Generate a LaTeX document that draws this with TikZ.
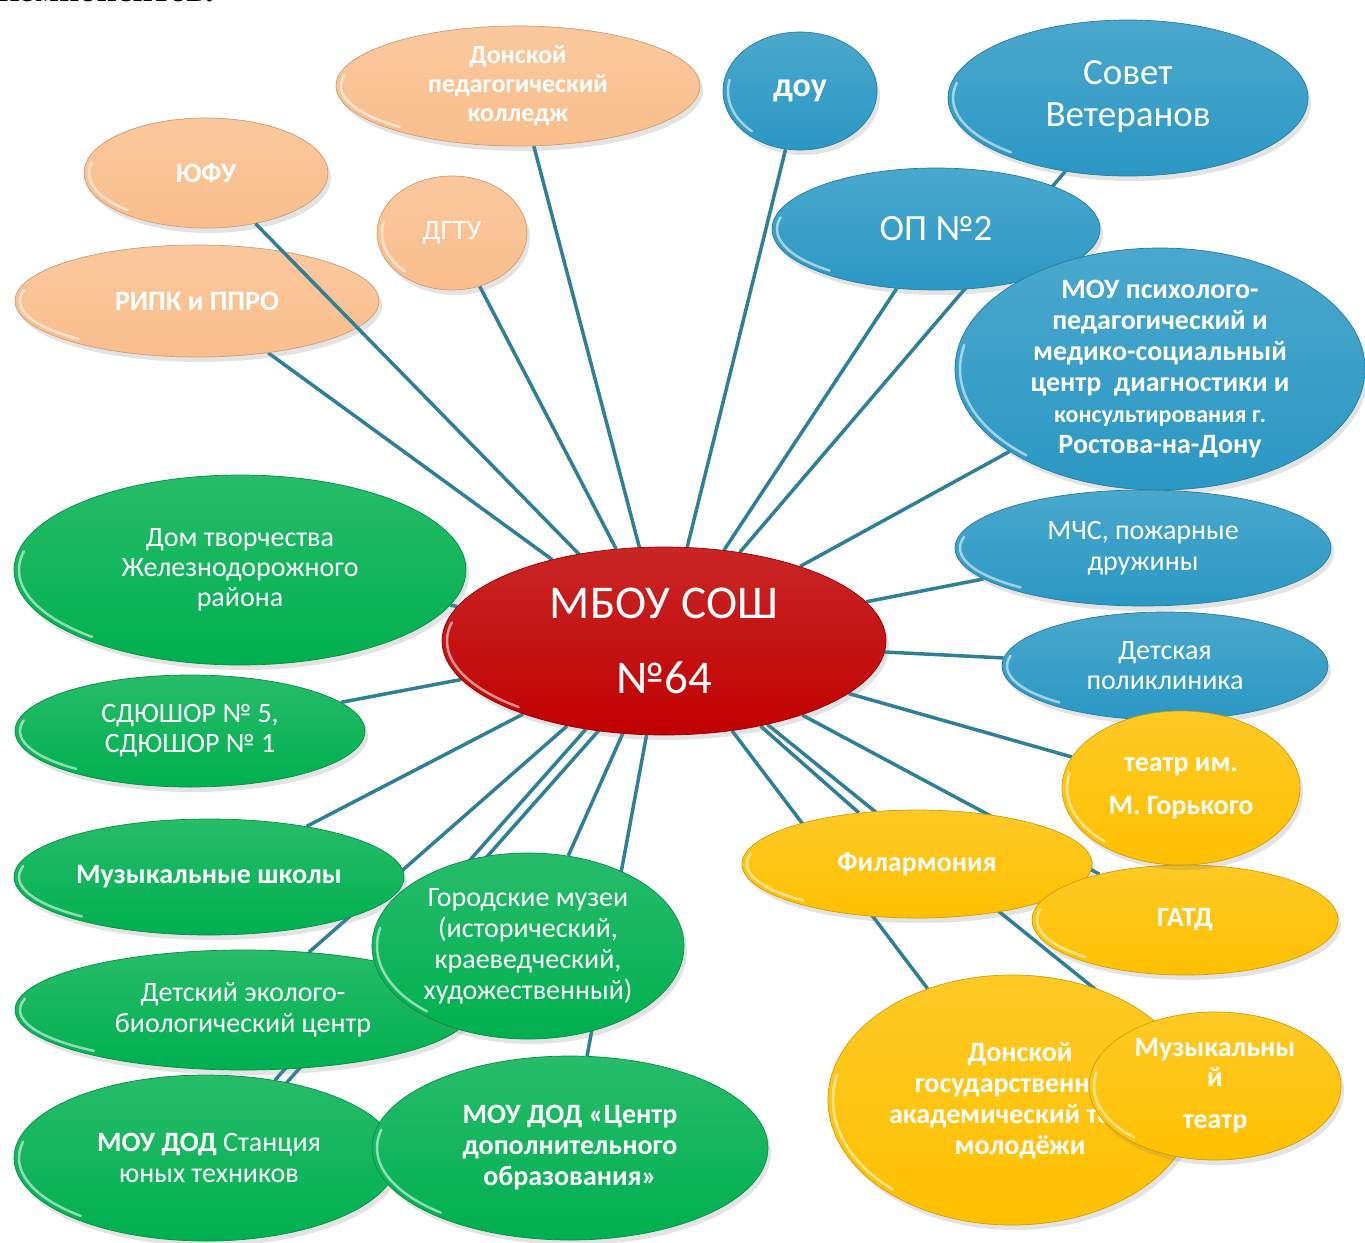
\documentclass[tikz,border=0pt]{standalone}
\usepackage{fontspec}
\setmainfont{Carlito}
\newfontfamily\serifru{Liberation Serif}
\usetikzlibrary{shapes.geometric,shadows,backgrounds,calc}
\definecolor{cO}{HTML}{F9BE8C}
\definecolor{cB}{HTML}{2A98C4}
\definecolor{cG}{HTML}{00B050}
\definecolor{cR}{HTML}{C00000}
\definecolor{cY}{HTML}{FFC000}
\definecolor{cL}{HTML}{2D8098}
\newcommand\fs[2]{\fontsize{#1}{#2}\selectfont}
\tikzset{
  x=1pt, y=1pt,
  bub/.style={ellipse, inner sep=0pt, draw=#1!82!black, line width=0.7pt,
    top color=#1!85!white, bottom color=#1,
    drop shadow={opacity=0.22, shadow xshift=3pt, shadow yshift=-5pt}},
  txt/.style={text=white, align=center, inner sep=0pt},
  gloss/.style={white, opacity=0.55, line width=2.5pt, line cap=round},
  conn/.style={draw=cL, line width=3.5pt}
}
% name, x, y, width, height, colour, font, text, extra text options
\newcommand\mkbub[9]{%
  \node[bub=#6, minimum width=#4pt, minimum height=#5pt] (#1) at (#2,#3) {};
  \draw[gloss] ($(#2,#3)+(168:{#4/2-5} and {#5/2-5})$)
     arc[start angle=168, end angle=228, x radius={#4/2-5}, y radius={#5/2-5}];
  \node[txt, font=#7, #9] (#1T) at (#1.center) {#8};}
\begin{document}
\begin{tikzpicture}
\useasboundingbox (0,0) rectangle (1365,-1242);
\begin{scope}
\clip (0,0) rectangle (1365,-1242);
\node[anchor=base east, inner sep=0pt, font=\serifru\bfseries\fs{35}{40}] (toptext) at (214,-1.5) {компонентов.};
\end{scope}
\coordinate (redc) at (664,-641);
% orange
\mkbub{yufu}{206}{-173}{244}{110}{cO}{\bfseries\fs{28}{31}}{ЮФУ}{}
\mkbub{ripk}{197}{-301}{364}{112}{cO}{\bfseries\fs{28}{31}}{РИПК и ППРО}{}
\draw[conn] (yufu) -- (redc);
\mkbub{kol}{518}{-86}{364}{120}{cO}{\bfseries\fs{26}{29}}{Донской\\педагогический\\колледж}{}
\mkbub{dgtu}{452}{-233}{150}{114}{cO}{\fs{28}{31}}{ДГТУ}{}
% blue
\mkbub{dou}{800}{-91}{154}{118}{cB}{\bfseries\fs{34}{38}}{доу}{}
\mkbub{sovet}{1128}{-98}{360}{156}{cB}{\fs{37}{42}}{Совет\\Ветеранов}{yshift=2pt}
\mkbub{op}{936}{-229}{328}{122}{cB}{\fs{37}{42}}{ОП №2}{}
\mkbub{psy}{1160}{-369}{410}{242}{cB}{\bfseries\fs{28}{31}}{МОУ психолого-\\педагогический и\\медико-социальный\\центр\ \ диагностики и\\{\fs{24}{31}консультирования г.}\\Ростова-на-Дону}{}
\mkbub{mchs}{1143}{-548}{376}{116}{cB}{\fs{28}{31}}{МЧС, пожарные\\дружины}{}
\mkbub{det}{1165}{-666}{326}{108}{cB}{\fs{28}{30}}{Детская\\поликлиника}{}
% green
\mkbub{dom}{240}{-570}{452}{190}{cG}{\fs{28}{30}}{Дом творчества\\Железнодорожного\\района}{}
\mkbub{sdu}{190}{-731}{350}{112}{cG}{\fs{28}{30}}{СДЮШОР № 5,\\СДЮШОР № 1}{}
\mkbub{mus}{209}{-877}{390}{116}{cG}{\bfseries\fs{28}{30}}{Музыкальные школы}{}
\mkbub{eko}{243}{-1010}{456}{120}{cG}{\fs{28}{31}}{Детский эколого-\\биологический центр}{}
\mkbub{muz}{528}{-946}{312}{186}{cG}{\fs{28}{31}}{Городские музеи\\(исторический,\\краеведческий,\\художественный)}{}
\mkbub{stan}{206}{-1158}{384}{166}{cG}{\fs{28}{31}}{\textbf{МОУ ДОД} Станция\\юных техников}{xshift=3pt}
\mkbub{cdo}{570}{-1148}{396}{184}{cG}{\bfseries\fs{28}{31}}{МОУ ДОД «Центр\\дополнительного\\образования»}{}
% yellow
\mkbub{fil}{917}{-864}{350}{108}{cY}{\bfseries\fs{28}{30}}{Филармония}{}
\mkbub{gatd}{1185}{-920}{306}{110}{cY}{\bfseries\fs{28}{30}}{ГАТД}{}
\mkbub{gor}{1181}{-788}{238}{154}{cY}{\bfseries\fs{28}{31}}{театр им.\\[12pt]М. Горького}{}
\mkbub{dgt}{1012}{-1100}{368}{250}{cY}{\bfseries\fs{28}{31}}{Донской\\государственный\\академический театр\\молодёжи}{xshift=8pt,yshift=-1pt}
\mkbub{mt}{1215}{-1086}{252}{148}{cY}{\bfseries\fs{28}{30}}{Музыкальны\\й\\[12pt]театр}{}
% centre
\mkbub{red}{664}{-641}{444}{188}{cR}{\fs{47}{75}}{МБОУ СОШ\\№64}{}
% connectors
\begin{pgfonlayer}{background}
\foreach \n in {ripk,kol,dgtu,dou,sovet,op,psy,mchs,det,dom,sdu,mus,eko,muz,stan,cdo,fil,gatd,gor,dgt,mt}
  \draw[conn] (red) -- (\n);
\draw[conn] ([xshift=14pt]red.center) -- ([xshift=14pt]stan.center);
\end{pgfonlayer}
\end{tikzpicture}
\end{document}
